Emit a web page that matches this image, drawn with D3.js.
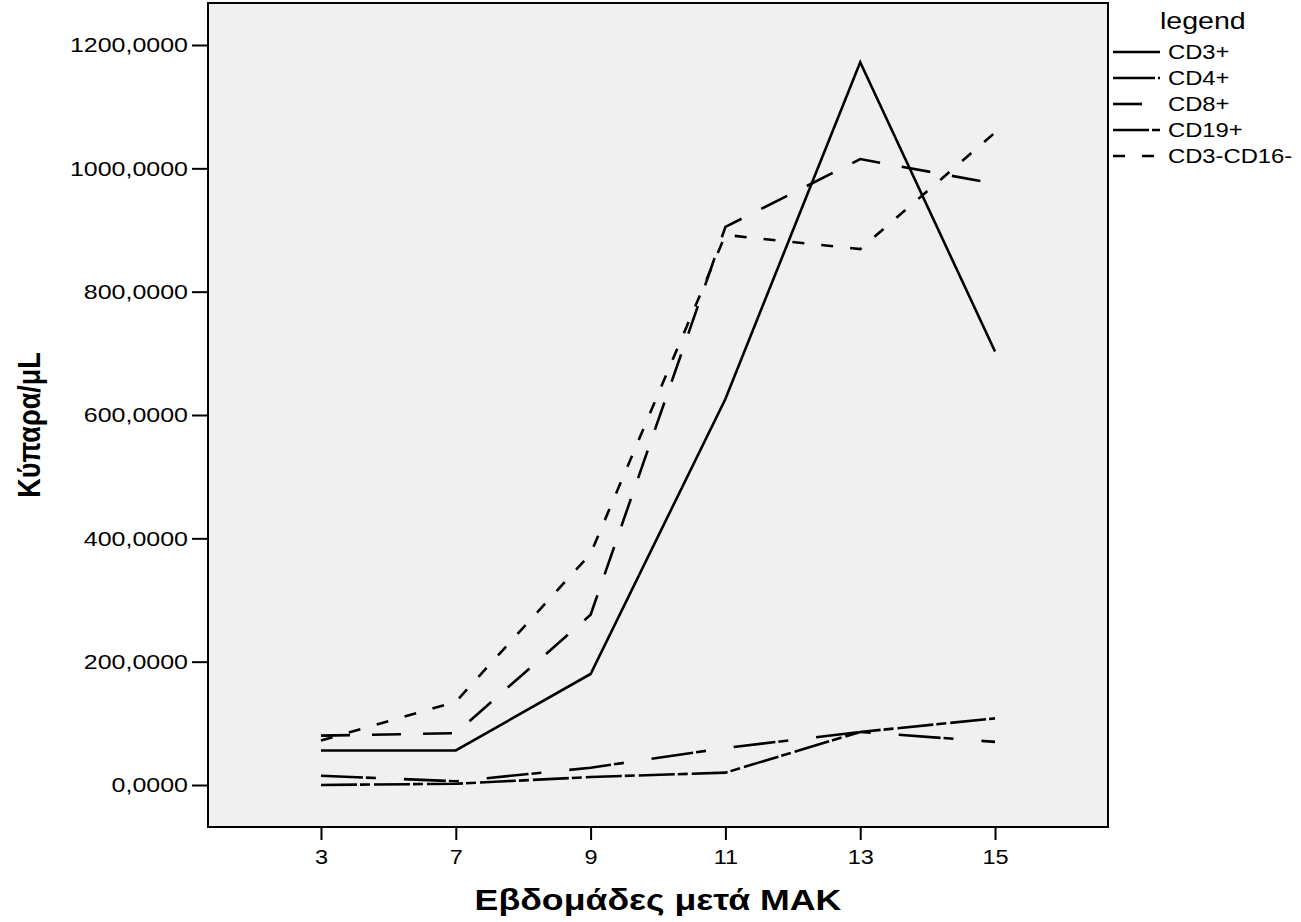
<!DOCTYPE html>
<html>
<head>
<meta charset="utf-8">
<script src="https://cdn.jsdelivr.net/npm/d3@7"></script>
<style>
  body { margin: 0; background: #fff; }
  text { font-family: "Liberation Sans", Arial, sans-serif; fill: #000; }
</style>
</head>
<body>
<div id="chart"></div>
<script>
// weeks after transplant (categorical x axis)
var weeks = ['3', '7', '9', '11', '13', '15']
var seriesNames = ['CD3+', 'CD4+', 'CD8+', 'CD19+', 'CD3-CD16-']

// cells / uL
var cd3 = [56, 56, 180, 626, 1172, 703]
var cd4 = [15, 6, 28, 60, 86, 70]
var cd8 = [80, 84, 276, 905, 1015, 975]
var cd19 = [0, 2, 13, 20, 86, 108]
var cd3cd16 = [72, 135, 375, 892, 869, 1058]

var yTicks = [0, 200, 400, 600, 800, 1000, 1200]

var width = 1301
var height = 922
var frame = { left: 208, top: 3, right: 1108, bottom: 827 }
var sx = 1.19 // the original picture is stretched sideways a bit

var dashes = {
  'CD3+': null,
  'CD4+': '42,3,10,28',
  'CD8+': '29,22',
  'CD19+': '36,3,10,4',
  'CD3-CD16-': '12,17'
}

var series = [
  { name: 'CD3+', values: cd3 },
  { name: 'CD4+', values: cd4 },
  { name: 'CD8+', values: cd8 },
  { name: 'CD19+', values: cd19 },
  { name: 'CD3-CD16-', values: cd3cd16 }
]

var svg = d3.select('#chart')
  .append('svg')
  .attr('width', width)
  .attr('height', height)

var xScale = d3.scalePoint()
  .domain(weeks)
  .range([frame.left, frame.right])
  .padding(0.838)

var yScale = d3.scaleLinear()
  .domain([0, 1200])
  .range([785, 45])

// plot area
svg.append('rect')
  .attr('x', frame.left)
  .attr('y', frame.top)
  .attr('width', frame.right - frame.left)
  .attr('height', frame.bottom - frame.top)
  .style('fill', '#f0f0f0')
  .style('stroke', '#000')
  .style('stroke-width', 2)

// Y axis
var yAxis = d3.axisLeft(yScale)
  .tickValues(yTicks)
  .tickSize(16)
  .tickSizeOuter(0)
  .tickFormat(d => d3.format('.4f')(d).replace('.', ','))

var yG = svg.append('g')
  .attr('transform', `translate(${frame.left},0)`)
  .call(yAxis)
yG.select('.domain').remove()
yG.selectAll('.tick line').style('stroke-width', 2)
yG.selectAll('.tick text')
  .style('font-size', '21px')
  .attr('x', -20 / sx)
  .attr('transform', `scale(${sx},1)`)

// X axis
var xAxis = d3.axisBottom(xScale)
  .tickSize(13)
  .tickSizeOuter(0)

var xG = svg.append('g')
  .attr('transform', `translate(0,${frame.bottom})`)
  .call(xAxis)
xG.select('.domain').remove()
xG.selectAll('.tick line').style('stroke-width', 2)
xG.selectAll('.tick text')
  .style('font-size', '21px')
  .attr('y', 22)
  .attr('dy', '0.71em')
  .attr('transform', `scale(1.12,1)`)

// lines
var lineDraw = d3.line()
  .x((d, i) => xScale(weeks[i]))
  .y(d => yScale(d))

svg.append('g')
  .attr('class', 'lines')
  .selectAll('path')
  .data(series)
  .join('path')
  .attr('d', d => lineDraw(d.values))
  .style('fill', 'none')
  .style('stroke', '#000')
  .style('stroke-width', 2.6)
  .style('stroke-dasharray', d => dashes[d.name])

// axis titles
svg.append('text')
  .attr('transform', `translate(${(frame.left + frame.right) / 2},910) scale(${sx},1)`)
  .style('text-anchor', 'middle')
  .style('font-size', '30px')
  .style('font-weight', 'bold')
  .text('Εβδομάδες μετά ΜΑΚ')

svg.append('text')
  .attr('transform', `translate(40,425) scale(${sx},1) rotate(-90)`)
  .style('text-anchor', 'middle')
  .style('font-size', '27px')
  .style('font-weight', 'bold')
  .text('Κύπαρα/μL')

// legend
var legend = svg.append('g')
  .attr('class', 'legend')

legend.append('text')
  .attr('transform', `translate(1160,29) scale(${sx},1)`)
  .style('font-size', '24px')
  .text('legend')

var rows = legend.selectAll('.row')
  .data(seriesNames)
  .join('g')
  .attr('class', 'row')
  .attr('transform', (d, i) => `translate(0,${52 + i * 26})`)

rows.append('line')
  .attr('x1', 1113)
  .attr('x2', 1160)
  .style('stroke', '#000')
  .style('stroke-width', 2.6)
  .style('stroke-dasharray', d => dashes[d])

rows.append('text')
  .attr('transform', `translate(1168,7) scale(${sx},1)`)
  .style('font-size', '20px')
  .text(d => d)
</script>
</body>
</html>
